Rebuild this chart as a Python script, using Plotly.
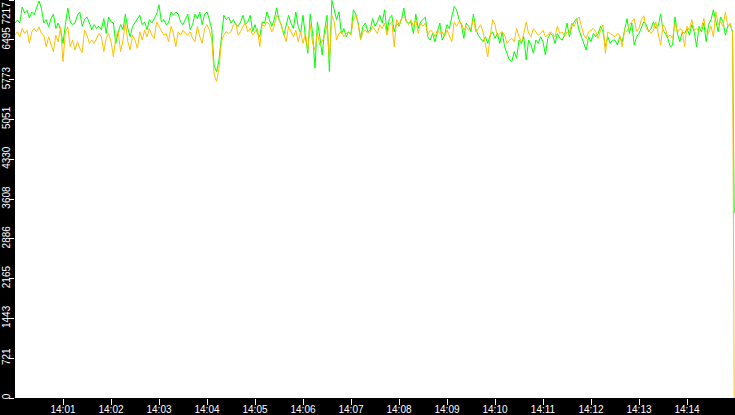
"""Two-series throughput trace, 14:00-14:15, green vs amber on a black frame."""

import pandas as pd
import plotly.graph_objects as go

DAY = "2024-01-01"
START = "14:00:00"      # first sample, then one every 3 s
LAST_SAMPLE = "14:14:59"  # final reading where both series collapse

# series A (green), one value per 3 s
green_vals = [
    6800, 6855, 6800, 7090, 6980, 7030, 6890, 7000, 6950, 7070,
    7200, 7070, 6800, 6860, 6730, 6880, 6960, 6700, 6800, 6680,
    6430, 6770, 7070, 6820, 6770, 6800, 6940, 7000, 6740, 6860,
    6910, 6800, 6680, 6770, 6700, 6740, 6680, 6880, 6610, 6910,
    6820, 6800, 6430, 6640, 6770, 6680, 6960, 6700, 6550, 6740,
    6800, 6860, 6940, 6770, 6820, 6680, 6860, 6800, 6880, 6960,
    7130, 6820, 6860, 6770, 6800, 7000, 6940, 7000, 6960, 6820,
    6770, 6860, 6960, 6680, 6770, 6960, 6880, 7000, 6770, 6960,
    7000, 6860, 6680, 6010, 5920, 6130, 6550, 6940, 6860, 6910,
    6800, 6860, 6770, 6740, 6820, 6940, 6770, 6820, 6940, 6650,
    6770, 6610, 6550, 6820, 6800, 7000, 6860, 6740, 6860, 7070,
    6860, 6770, 6580, 6740, 6940, 6800, 6700, 7000, 6740, 6610,
    6940, 6550, 6250, 6960, 6610, 5980, 6820, 6550, 6220, 6680,
    6940, 5920, 7210, 7040, 6860, 7000, 6610, 6700, 6550, 6640,
    6610, 7040, 6960, 6800, 6520, 6740, 6800, 6640, 6670, 6880,
    6740, 6820, 6940, 6800, 7040, 6640, 6880, 6940, 6640, 6800,
    6740, 6860, 7070, 6820, 6800, 6820, 6610, 6960, 6700, 6820,
    6860, 6910, 6550, 6490, 6610, 6460, 6640, 6800, 6490, 6580,
    6770, 6700, 6910, 7100, 7040, 6860, 6770, 6520, 6800, 6740,
    6640, 6960, 6700, 6580, 6520, 6460, 6550, 6430, 6580, 6640,
    6520, 6610, 6430, 6640, 6370, 6250, 6130, 6100, 6280, 6160,
    6490, 6430, 6550, 6130, 6490, 6400, 6250, 6490, 6430, 6550,
    6460, 6220, 6520, 6610, 6580, 6430, 6610, 6520, 6490, 6580,
    6800, 6550, 6740, 6820, 6880, 6670, 6550, 6460, 6310, 6550,
    6460, 6610, 6550, 6610, 6740, 6640, 6370, 6550, 6430, 6490,
    6490, 6400, 6550, 6460, 6700, 6880, 6610, 6800, 6400, 6550,
    6610, 6700, 6820, 6770, 6640, 6700, 6820, 6700, 6740, 6960,
    6670, 6610, 6520, 6370, 6400, 6910, 6610, 6460, 6640, 6610,
    6700, 6580, 6770, 6640, 6370, 6740, 6640, 6800, 6460, 6770,
    6860, 7040, 6820, 6640, 6910, 6820, 6580, 6740, 6770, 6640,
]
green_last = 3350

# series B (amber)
amber_vals = [
    6585, 6640, 6550, 6700, 6610, 6670, 6430, 6640, 6700, 6640,
    6730, 6610, 6580, 6370, 6550, 6430, 6280, 6580, 6460, 6730,
    6100, 6640, 6730, 6370, 6490, 6310, 6460, 6340, 6265, 6670,
    6580, 6430, 6490, 6430, 6520, 6610, 6550, 6280, 6520, 6610,
    6460, 6190, 6550, 6640, 6280, 6490, 6820, 6460, 6310, 6580,
    6490, 6340, 6640, 6490, 6670, 6550, 6700, 6580, 6520, 6820,
    6740, 6670, 6580, 6610, 6460, 6740, 6610, 6370, 6640, 6580,
    6670, 6610, 6580, 6640, 6520, 6460, 6740, 6550, 6430, 6700,
    6770, 6670, 6490, 5860, 5740, 5980, 6460, 6580, 6640, 6610,
    6640, 6770, 6800, 6580, 6640, 6740, 6800, 6640, 6700, 6580,
    6640, 6700, 6370, 6770, 6740, 6820, 6770, 6640, 6740, 6940,
    6880, 6740, 6640, 6460, 6740, 6640, 6550, 6670, 6460, 6640,
    6430, 6610, 6310, 6770, 6430, 6310, 6640, 6400, 6490, 6550,
    6770, 6130, 6940, 6820, 6490, 6610, 6640, 6550, 6610, 6640,
    6580, 6860, 6940, 6770, 6490, 6640, 6670, 6610, 6640, 6740,
    6670, 6610, 6770, 6700, 6800, 6580, 6770, 6820, 6370, 6860,
    6770, 6880, 6910, 6860, 6770, 6860, 6740, 6860, 6610, 6800,
    6740, 6800, 6580, 6670, 6640, 6550, 6670, 6610, 6640, 6550,
    6670, 6580, 6460, 6820, 6740, 6820, 6800, 6670, 6740, 6670,
    6700, 6880, 6640, 6700, 6770, 6640, 6400, 6190, 6550, 6860,
    6770, 6550, 6610, 6640, 6580, 6430, 6490, 6520, 6460, 6700,
    6550, 6460, 6610, 6820, 6610, 6550, 6700, 6640, 6580, 6610,
    6670, 6550, 6580, 6640, 6610, 6550, 6740, 6610, 6640, 6550,
    6640, 6610, 6800, 6740, 6860, 6910, 6740, 6580, 6520, 6640,
    6670, 6700, 6640, 6520, 6670, 6770, 6250, 6640, 6610, 6580,
    6550, 6610, 6580, 6370, 6670, 6640, 6770, 6820, 6880, 6640,
    6700, 6860, 6930, 6700, 6670, 6610, 6670, 6820, 6580, 6400,
    6770, 6700, 6550, 6580, 6520, 6800, 6640, 6700, 6670, 6370,
    6740, 6670, 6860, 6670, 6700, 6640, 6700, 6880, 6640, 6610,
    6740, 6550, 7000, 6770, 6820, 6740, 7000, 6740, 6800, 6610,
]
amber_last = 0

y_max = 7217
y_tick_labels = ["0", "721", "1443", "2165", "2886", "3608", "4330", "5051", "5773", "6495"]
x_tick_labels = ["14:01", "14:02", "14:03", "14:04", "14:05", "14:06", "14:07",
                 "14:08", "14:09", "14:10", "14:11", "14:12", "14:13", "14:14"]

times = list(pd.date_range(f"{DAY} {START}", periods=len(green_vals), freq="3s"))
times.append(pd.Timestamp(f"{DAY} {LAST_SAMPLE}"))
green = green_vals + [green_last]
amber = amber_vals + [amber_last]

FONT = dict(family="Liberation Sans", size=10, color="white")

fig = go.Figure()
fig.add_trace(go.Scatter(x=times, y=green, mode="lines",
                         line=dict(color="#00ff00", width=1), name="A"))
fig.add_trace(go.Scatter(x=times, y=amber, mode="lines",
                         line=dict(color="#ffc000", width=1), name="B"))

y_ticks = [y_max * k / 10 for k in range(10)] + [y_max]
x_ticks = [f"{DAY} {t}:00" for t in x_tick_labels]

fig.update_layout(
    width=735, height=415,
    margin=dict(l=15, r=0, t=0, b=17, pad=0, autoexpand=False),
    paper_bgcolor="black",
    plot_bgcolor="white",
    showlegend=False,
    font=FONT,
    xaxis=dict(
        range=[f"{DAY} 14:00:00", f"{DAY} 14:15:00"],
        tickvals=x_ticks, ticktext=x_tick_labels,
        ticks="outside", ticklen=6, tickcolor="white", tickwidth=1,
        showgrid=False, zeroline=False, showline=False,
        tickfont=FONT, automargin=False,
        ticklabelstandoff=-4,
    ),
    yaxis=dict(
        range=[0, y_max],
        tickvals=y_ticks, ticktext=y_tick_labels + [""],
        tickangle=-90,
        ticks="outside", ticklen=5, tickcolor="white", tickwidth=1,
        showgrid=False, zeroline=False, showline=False,
        tickfont=FONT, automargin=False,
        ticklabelstandoff=-5,
    ),
)

# top label sits below its tick so it stays inside the frame
fig.add_annotation(
    text=str(y_max), xref="paper", yref="paper",
    x=-0.0125, y=1, xanchor="center", yanchor="top",
    textangle=-90, showarrow=False, font=FONT,
)

# page body has a default 8px margin; drop it so the figure fills the window
fig.write_html("out.html", config={"displayModeBar": False},
               post_script="document.body.style.margin='0';")
